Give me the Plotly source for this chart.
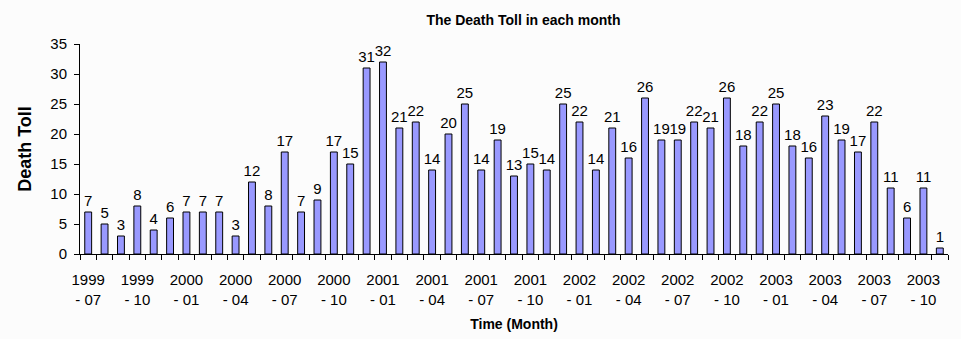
import plotly.graph_objects as go

months = []
for y in range(1999, 2004):
    for m in range(1, 13):
        if (y == 1999 and m < 7) or (y == 2003 and m > 11):
            continue
        months.append(f"{y} - {m:02d}")

deaths = [7, 5, 3, 8, 4, 6, 7, 7, 7, 3, 12, 8, 17, 7, 9, 17, 15, 31, 32, 21,
          22, 14, 20, 25, 14, 19, 13, 15, 14, 25, 22, 14, 21, 16, 26, 19, 19,
          22, 21, 26, 18, 22, 25, 18, 16, 23, 19, 17, 22, 11, 6, 11, 1]

x_idx = list(range(len(deaths)))
tick_pos = x_idx[::3]
tick_text = [months[i].replace(" - ", "<br>- ") for i in tick_pos]

FONT = "Liberation Sans, Arial, sans-serif"
BG = "#fcfcfc"

fig = go.Figure(go.Bar(
    x=x_idx, y=deaths,
    marker=dict(color="#9999ff", line=dict(color="black", width=1)),
    text=[str(v) for v in deaths], textposition="outside",
    textfont=dict(family=FONT, size=15, color="black"),
    constraintext="none",
    cliponaxis=False, width=0.42,
))

fig.update_layout(
    width=961, height=339,
    margin=dict(l=80, r=13, t=44, b=85),
    paper_bgcolor=BG, plot_bgcolor=BG,
    font=dict(family=FONT, color="black"),
    showlegend=False,
    title=dict(text="<b>The Death Toll in each month</b>", x=491/961, xref="paper",
               xanchor="center", y=1 - 20/339, yanchor="middle",
               font=dict(family=FONT, size=14, color="black")),
)

fig.update_xaxes(
    range=[-0.5, len(deaths) - 0.5], tickmode="array", tickvals=tick_pos, ticktext=tick_text,
    ticks="", showline=True, linecolor="black", linewidth=1, showgrid=False, zeroline=False,
    tickfont=dict(family=FONT, size=15, color="black"), tickangle=0,
    ticklabelstandoff=12, automargin=False,
    minor=dict(ticks="outside", tickmode="array",
               tickvals=[i - 0.5 for i in range(len(deaths) + 1)],
               ticklen=5, tickcolor="black", tickwidth=1, showgrid=False),
    title=dict(text="<b>Time (Month)</b>", font=dict(family=FONT, size=14, color="black"), standoff=12),
)
fig.update_yaxes(
    range=[0, 35], tickmode="array", tickvals=list(range(0, 36, 5)),
    ticks="outside", ticklen=5, tickcolor="black", showline=True, linecolor="black",
    linewidth=1, showgrid=False, zeroline=False, automargin=False,
    tickfont=dict(family=FONT, size=15, color="black"),
    ticklabelstandoff=4,
    title=dict(text="<b>Death Toll</b>", font=dict(family=FONT, size=18, color="black"), standoff=14),
)

fig.write_html("out.html")
